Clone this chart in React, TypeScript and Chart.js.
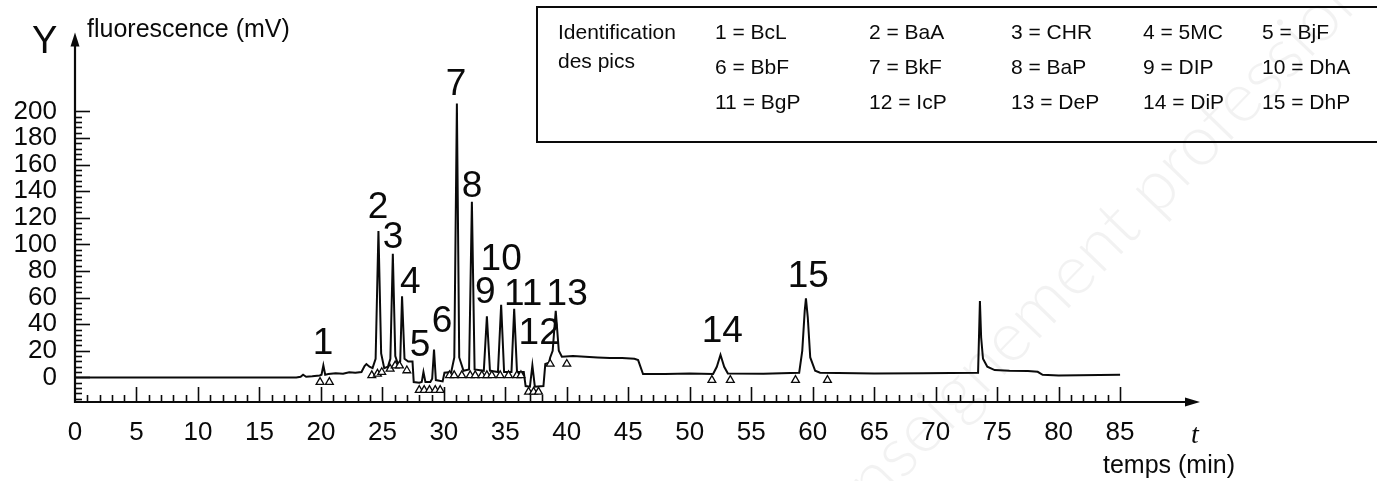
import { useEffect, useRef } from 'react';
import { Chart, registerables } from 'chart.js';

Chart.register(...registerables);

// ---- chromatogram trace (time in min, fluorescence in mV) ----
const traceTime = [
  0, 18.0, 18.35, 18.55, 18.8, 19.3, 19.9, 20.05, 20.2, 20.35,
  20.6, 21.2, 21.8, 22.3, 22.8, 23.3, 23.55, 23.7, 23.95, 24.2,
  24.45, 24.68, 24.9, 25.15, 25.45, 25.65, 25.85, 26.05, 26.3, 26.45,
  26.6, 26.8, 27.1, 27.45, 27.55, 28.0, 28.2, 28.34, 28.5, 28.9,
  29.05, 29.2, 29.35, 29.9, 30.05, 30.6, 30.85, 31.06, 31.25, 31.6,
  32.05, 32.28, 32.5, 33.25, 33.5, 33.75, 34.4, 34.66, 34.9, 35.5,
  35.72, 35.95, 36.5, 36.65, 37.0, 37.2, 37.4, 38.1, 38.25, 38.55,
  38.65, 38.85, 39.1, 39.35, 39.6, 40.5, 41.5, 42.5, 43.5, 44.5,
  45.5, 45.8, 46.2, 48.0, 50.0, 51.9, 52.2, 52.5, 52.8, 53.1,
  56.0, 58.9, 59.15, 59.35, 59.45, 59.6, 59.8, 60.2, 60.6, 65.0,
  69.0, 73.45, 73.6, 73.7, 73.85, 74.2, 74.8, 76.0, 77.5, 78.3,
  78.7, 80.0, 85.0,
];
const traceSignal = [
  0, 0, 0.5, 2, 0.5, 0.8, 1.5, 2, 9, 2,
  2.5, 3.2, 2.8, 3.8, 3.5, 4, 8.5, 10, 8, 7,
  14, 110, 18, 7, 8, 14, 93, 16, 9, 12,
  61, 14, 12, 12, -3.5, -4, -3.5, 4, -3.5, -3.5,
  -1, 21, -2, -3, 3.5, 4, 15, 206, 15, 5,
  6, 132, 6, 5, 46, 5, 4, 54.6, 4, 4,
  51.6, 4, 4, -6.5, -7, 9, -7, -6.5, 10, 11,
  15, 20, 50, 20, 15.5, 16, 15.5, 15, 14.5, 14.5,
  14, 13, 2.5, 2.5, 3, 2.5, 8, 17, 8, 3,
  2.8, 3.5, 20, 50, 59.5, 45, 15, 5, 3.5, 3,
  3.2, 3.5, 57.5, 30, 14, 8, 5.5, 5, 4.8, 4.2,
  2, 1.5, 2,
];

// ---- peak start / end markers (open triangles) ----
const markerTime = [
  19.93, 20.69,
  24.14, 24.6, 24.95, 25.63, 26.04, 26.39, 26.99,
  28.0, 28.4, 28.83, 29.3, 29.7,
  30.46, 30.84, 31.46, 32.14, 32.55, 33.09, 33.5, 33.9, 34.58, 35.26, 35.94, 36.27,
  36.89, 37.3, 37.7,
  38.65, 40.0,
  51.8, 53.3, 58.6, 61.2,
];
const markerSignal = [
  -3.5, -3.5,
  1.5, 2.7, 3.9, 6.4, 8.9, 8.9, 5.2,
  -9.6, -9.6, -9.6, -9.6, -9.6,
  1.5, 1.5, 1.5, 1.5, 1.5, 1.5, 1.5, 1.5, 1.5, 1.5, 1.5, 1.5,
  -10.9, -10.9, -10.9,
  10.1, 10.1,
  -2, -2, -2, -2,
];

// ---- peak numbers, anchored in data units ----
const peakLabels = ['1', '2', '3', '4', '5', '6', '7', '8', '9', '10', '11', '12', '13', '14', '15'];
const peakLabelTime = [20.18, 24.65, 25.87, 27.26, 28.07, 29.86, 31.0, 32.3, 33.36, 34.66, 36.45, 37.75, 40.03, 52.64, 59.64];
const peakLabelSignal = [27.4, 129.6, 107.4, 73.3, 25.9, 44.4, 222.2, 145.9, 65.9, 90.4, 64.4, 34.8, 64.4, 36.3, 77.8];

// ---- axes ----
const xTickValues = [0, 5, 10, 15, 20, 25, 30, 35, 40, 45, 50, 55, 60, 65, 70, 75, 80, 85];
const yTickValues = [0, 20, 40, 60, 80, 100, 120, 140, 160, 180, 200];
const yAxisTitle = 'fluorescence (mV)';
const yAxisSymbol = 'Y';
const xAxisSymbol = 't';
const xAxisTitle = 'temps (min)';

// ---- legend ----
const legendTitle = ['Identification', 'des pics'];
const legendEntries = [
  '1 = BcL', '2 = BaA', '3 = CHR', '4 = 5MC', '5 = BjF',
  '6 = BbF', '7 = BkF', '8 = BaP', '9 = DIP', '10 = DhA',
  '11 = BgP', '12 = IcP', '13 = DeP', '14 = DiP', '15 = DhP',
];
const watermarkText = 'enseignement professionnel';

const FONT = '"Liberation Sans", Arial, Helvetica, sans-serif';
const INK = '#0a0a0a';

const decorPlugin = {
  id: 'decor',
  beforeDatasetsDraw(chart: any) {
    const ctx = chart.ctx as CanvasRenderingContext2D;
    ctx.save();
    ctx.translate(850, 535);
    ctx.rotate((-46 * Math.PI) / 180);
    ctx.font = `300 70px Lato, ${FONT}`;
    ctx.fillStyle = 'rgba(0,0,0,0.05)';
    ctx.textBaseline = 'alphabetic';
    ctx.fillText(watermarkText, 0, 0);
    ctx.restore();
  },
  afterDraw(chart: any) {
    const ctx = chart.ctx as CanvasRenderingContext2D;
    const xs = chart.scales.x;
    const ys = chart.scales.y;
    const x0 = xs.getPixelForValue(0);
    const yb = ys.bottom;
    ctx.save();
    ctx.strokeStyle = INK;
    ctx.fillStyle = INK;

    // y axis line + arrow
    ctx.lineWidth = 2.2;
    ctx.beginPath();
    ctx.moveTo(x0, yb + 1);
    ctx.lineTo(x0, ys.top + 10);
    ctx.stroke();
    ctx.beginPath();
    ctx.moveTo(x0, ys.top - 1);
    ctx.lineTo(x0 - 4.5, ys.top + 13);
    ctx.lineTo(x0 + 4.5, ys.top + 13);
    ctx.closePath();
    ctx.fill();

    // x axis line + arrow
    ctx.beginPath();
    ctx.moveTo(x0 - 1, yb);
    ctx.lineTo(xs.right - 12, yb);
    ctx.stroke();
    ctx.beginPath();
    ctx.moveTo(xs.right, yb);
    ctx.lineTo(xs.right - 15, yb - 4.5);
    ctx.lineTo(xs.right - 15, yb + 4.5);
    ctx.closePath();
    ctx.fill();

    // y ticks (minor every 4, major every 20)
    ctx.lineWidth = 1.6;
    for (let v = -16; v <= 200; v += 4) {
      const y = Math.round(ys.getPixelForValue(v)) + 0.5;
      const len = v % 20 === 0 ? 15 : 7;
      ctx.beginPath();
      ctx.moveTo(x0, y);
      ctx.lineTo(x0 + len, y);
      ctx.stroke();
    }
    // x ticks (minor every 1, major every 5)
    for (let t = 1; t <= 85; t += 1) {
      const x = Math.round(xs.getPixelForValue(t)) + 0.5;
      const len = t % 5 === 0 ? 15 : 7;
      ctx.beginPath();
      ctx.moveTo(x, yb);
      ctx.lineTo(x, yb - len);
      ctx.stroke();
    }

    // peak numbers
    ctx.font = `37px ${FONT}`;
    ctx.textAlign = 'center';
    ctx.textBaseline = 'alphabetic';
    peakLabels.forEach((lab, i) => {
      const px = xs.getPixelForValue(peakLabelTime[i]);
      const py = ys.getPixelForValue(peakLabelSignal[i]);
      ctx.fillText(lab, px, py + 13.2);
    });

    // axis titles
    ctx.textAlign = 'left';
    ctx.font = `38px ${FONT}`;
    ctx.fillText(yAxisSymbol, 32, 53);
    ctx.font = `25px ${FONT}`;
    ctx.fillText(yAxisTitle, 87, 37);
    ctx.fillText(xAxisTitle, 1103, 473);
    ctx.font = `italic 28px "Liberation Serif", "Times New Roman", serif`;
    ctx.textAlign = 'center';
    ctx.fillText(xAxisSymbol, 1195, 443);

    // legend box
    ctx.lineWidth = 2;
    ctx.strokeRect(537, 7, 900, 135);
    ctx.textAlign = 'left';
    ctx.font = `21px ${FONT}`;
    ctx.fillText(legendTitle[0], 558, 39);
    ctx.fillText(legendTitle[1], 558, 68);
    const colX = [715, 869, 1011, 1143, 1262];
    const rowY = [39, 74, 109];
    legendEntries.forEach((txt, i) => {
      ctx.fillText(txt, colX[i % 5], rowY[Math.floor(i / 5)]);
    });
    ctx.restore();
  },
};

export default function App() {
  const canvasRef = useRef<HTMLCanvasElement | null>(null);

  useEffect(() => {
    if (!canvasRef.current) return;
    const chart = new Chart(canvasRef.current, {
      type: 'line',
      data: {
        datasets: [
          {
            label: 'trace',
            data: traceTime.map((t, i) => ({ x: t, y: traceSignal[i] })),
            borderColor: INK,
            borderWidth: 2,
            pointRadius: 0,
            tension: 0,
            fill: false,
            order: 2,
          },
          {
            label: 'markers',
            data: markerTime.map((t, i) => ({ x: t, y: markerSignal[i] })),
            showLine: false,
            pointStyle: 'triangle',
            pointRadius: 4.5,
            pointBorderWidth: 1.3,
            pointBackgroundColor: '#ffffff',
            pointBorderColor: INK,
            order: 1,
          } as any,
        ],
      },
      options: {
        responsive: false,
        animation: false,
        devicePixelRatio: 1,
        layout: { padding: { top: 28, right: 177, left: 0, bottom: 0 } },
        plugins: { legend: { display: false }, tooltip: { enabled: false } },
        events: [],
        scales: {
          x: {
            type: 'linear',
            min: 0,
            max: 91.5,
            afterBuildTicks: (s: any) => {
              s.ticks = xTickValues.map((value) => ({ value }));
            },
            afterFit: (s: any) => {
              s.height = 79;
            },
            grid: { display: false, drawTicks: false },
            border: { display: false },
            ticks: {
              autoSkip: false,
              maxRotation: 0,
              padding: 15,
              color: INK,
              font: { size: 26, family: FONT, lineHeight: 1.2 },
            },
          },
          y: {
            type: 'linear',
            min: -18.5,
            max: 258.5,
            afterBuildTicks: (s: any) => {
              s.ticks = yTickValues.map((value) => ({ value }));
            },
            afterFit: (s: any) => {
              s.width = 75;
            },
            grid: { display: false, drawTicks: false },
            border: { display: false },
            ticks: {
              autoSkip: false,
              padding: 18,
              color: INK,
              font: { size: 26, family: FONT, lineHeight: 1.2 },
            },
          },
        },
      },
      plugins: [decorPlugin],
    });
    return () => chart.destroy();
  }, []);

  return (
    <div style={{ position: 'fixed', left: 0, top: 0, width: 1377, height: 481, background: '#ffffff' }}>
      <canvas ref={canvasRef} width={1377} height={481} style={{ display: 'block', width: 1377, height: 481 }} />
    </div>
  );
}
